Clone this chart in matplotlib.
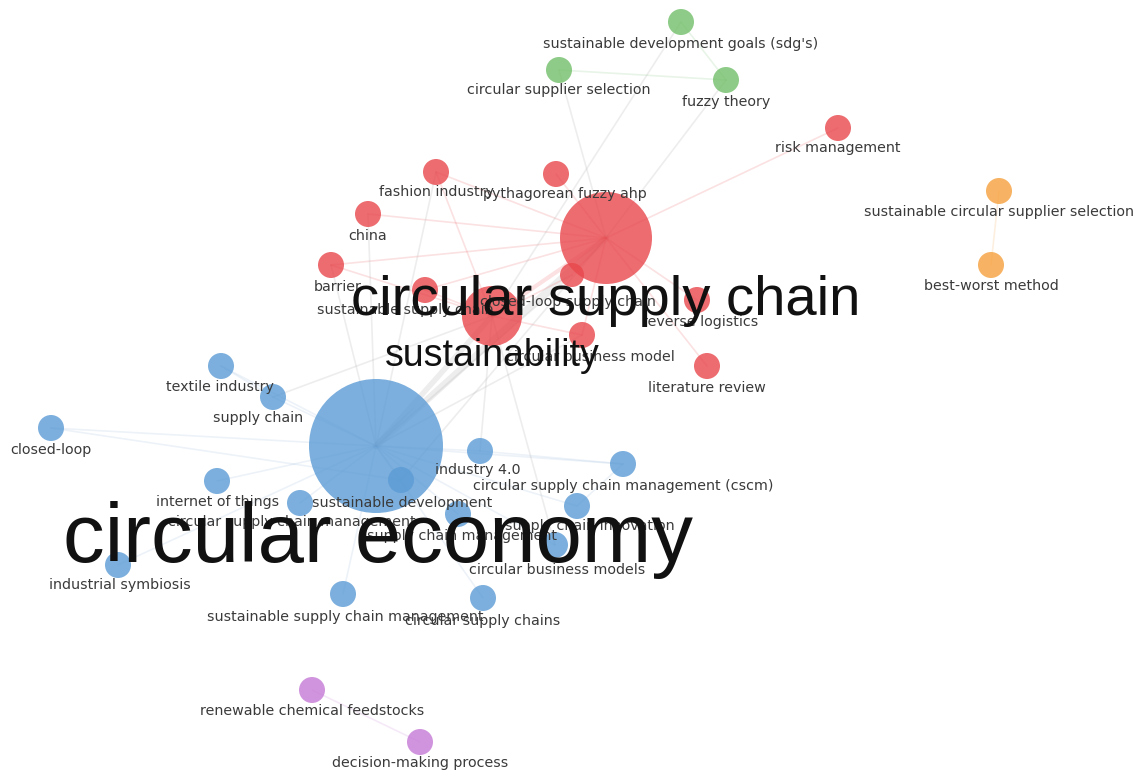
import matplotlib.pyplot as plt
from matplotlib.patches import Circle

# node data: label, x, y (pixel space of the map), radius, cluster
labels = [
    'circular supply chain', 'sustainability', 'fashion industry', 'pythagorean fuzzy ahp',
    'china', 'barrier', 'sustainable supply chain', 'closed-loop supply chain',
    'reverse logistics', 'circular business model', 'literature review', 'risk management',
    'sustainable development goals (sdg\'s)', 'circular supplier selection', 'fuzzy theory',
    'sustainable circular supplier selection', 'best-worst method',
    'renewable chemical feedstocks', 'decision-making process',
    'circular economy', 'textile industry', 'supply chain', 'closed-loop', 'industry 4.0',
    'circular supply chain management (cscm)', 'internet of things', 'sustainable development',
    'circular supply chain management', 'supply chain management', 'supply chain innovation',
    'circular business models', 'industrial symbiosis', 'sustainable supply chain management',
    'circular supply chains',
]
node_x = [606, 492, 436, 556, 368, 331, 425, 572, 697, 582, 707, 838,
          681, 559, 726, 999, 991, 312, 420,
          376, 221, 273, 51, 480, 623, 217, 401, 300, 458, 577, 555, 118, 343, 483]
node_y = [238, 316, 172, 174, 214, 265, 290, 275, 300, 335, 366, 128,
          22, 70, 80, 191, 265, 690, 742,
          446, 366, 397, 428, 451, 464, 481, 480, 503, 514, 506, 545, 565, 594, 598]
node_r = [46, 30, 13, 13, 13, 13, 13, 12, 13, 13, 13, 13,
          13, 13, 13, 13, 13, 13, 13,
          67, 13, 13, 13, 13, 13, 13, 13, 13, 13, 13, 13, 13, 13, 13]
cluster = [0] * 12 + [1] * 3 + [2] * 2 + [3] * 2 + [4] * 15

# label anchor (x, y) and font size; big ones get special treatment
label_x = [606, 492, 436, 565, 368, 338, 405, 568, 700, 590, 707, 838,
           681, 559, 726, 999, 991, 312, 420,
           378, 220, 258, 51, 478, 623, 218, 402, 292, 462, 590, 557, 120, 345, 483]
label_y = [301, 356, 192, 194, 236, 287, 310, 302, 322, 357, 388, 148,
           44, 90, 102, 212, 286, 711, 763,
           540, 387, 418, 450, 470, 486, 502, 503, 522, 536, 526, 570, 585, 617, 621]
big_size = {0: 40.5, 1: 27, 19: 60}

edges = [
    (19, 0), (19, 1), (0, 1), (19, 20), (19, 21), (19, 22), (19, 23), (19, 24), (19, 25),
    (19, 26), (19, 27), (19, 28), (19, 29), (19, 30), (19, 31), (19, 32), (19, 33),
    (0, 2), (0, 3), (0, 4), (0, 5), (0, 6), (0, 7), (0, 8), (0, 9), (0, 10), (0, 11),
    (1, 6), (1, 7), (1, 9), (1, 5), (1, 2), (19, 4), (19, 5), (19, 2), (19, 7), (19, 9),
    (13, 14), (12, 14), (12, 1), (14, 0), (13, 0), (15, 16), (17, 18),
    (20, 21), (23, 24), (22, 26), (1, 23), (1, 30), (0, 26), (1, 21), (24, 29),
]
edge_w = [5, 4, 3] + [1.2] * (len(edges) - 3)

colors = ['#e8474c', '#72bf6a', '#f6a03c', '#c57ad6', '#5b9bd5']
edge_colors = ['#e8474c', '#72bf6a', '#f6a03c', '#c57ad6', '#8fb3d9']

fig = plt.figure(figsize=(11.45, 7.76), dpi=100)
ax = fig.add_axes([0, 0, 1, 1])
ax.set_xlim(0, 1145)
ax.set_ylim(776, 0)
ax.set_aspect('equal')
ax.axis('off')

for (a, b), w in zip(edges, edge_w):
    if cluster[a] == cluster[b]:
        c = edge_colors[cluster[a]]
        al = 0.16
    else:
        c = '#b0b0b0'
        al = 0.22
    ax.plot([node_x[a], node_x[b]], [node_y[a], node_y[b]], color=c, lw=w, alpha=al,
            solid_capstyle='round', zorder=1)

for i in range(len(labels)):
    ax.add_patch(Circle((node_x[i], node_y[i]), node_r[i], facecolor=colors[cluster[i]],
                        edgecolor='none', alpha=0.8, zorder=2))

for i in range(len(labels)):
    if i in big_size:
        ax.text(label_x[i], label_y[i], labels[i], fontsize=big_size[i],
                family='Liberation Sans', color='#111111', ha='center', va='center', zorder=4)
    else:
        ax.text(label_x[i], label_y[i], labels[i], fontsize=10.3, color='#3a3a3a',
                ha='center', va='center', zorder=3)

fig.savefig('out.png', dpi=100)
